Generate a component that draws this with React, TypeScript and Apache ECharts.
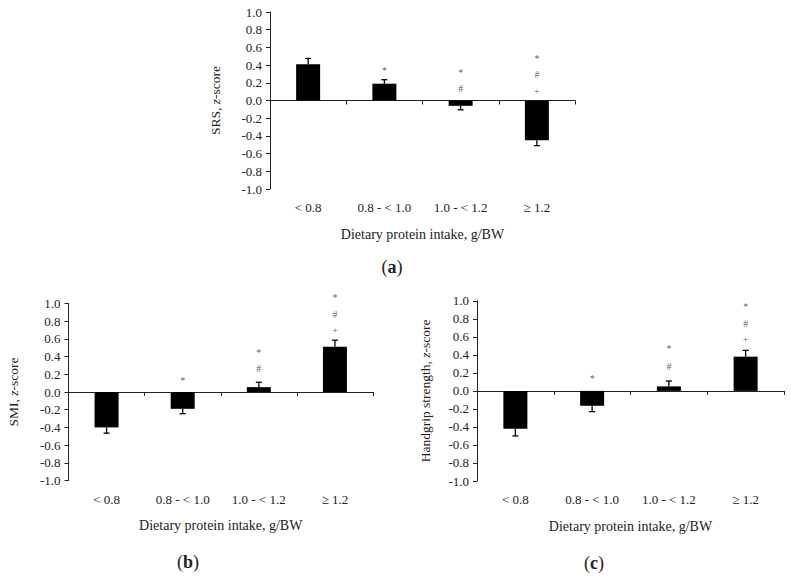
import React, { useEffect, useRef } from "react";
import * as echarts from "echarts";

const categories = ["< 0.8", "0.8 - < 1.0", "1.0 - < 1.2", "≥ 1.2"];
const yTicks = { min: -1, max: 1, step: 0.2 };

const srsMean = [0.41, 0.19, -0.06, -0.45];
const srsSE = [0.065, 0.045, 0.045, 0.06];
const smiMean = [-0.4, -0.19, 0.055, 0.51];
const smiSE = [0.065, 0.055, 0.055, 0.075];
const hgMean = [-0.42, -0.165, 0.05, 0.38];
const hgSE = [0.08, 0.065, 0.06, 0.07];

// significance marks: [category index, y value, symbol]
const srsMarks: [number, number, string][] = [
  [1, 0.34, "*"],
  [2, 0.32, "*"], [2, 0.13, "#"],
  [3, 0.48, "*"], [3, 0.29, "#"], [3, 0.1, "+"],
];
const smiMarks: [number, number, string][] = [
  [1, 0.13, "*"],
  [2, 0.45, "*"], [2, 0.26, "#"],
  [3, 1.07, "*"], [3, 0.88, "#"], [3, 0.69, "+"],
];
const hgMarks: [number, number, string][] = [
  [1, 0.14, "*"],
  [2, 0.47, "*"], [2, 0.27, "#"],
  [3, 0.94, "*"], [3, 0.75, "#"], [3, 0.57, "+"],
];

const xTitle = "Dietary protein intake, g/BW";
const panels = [
  { pre: "SRS, ", post: "-score", mean: srsMean, se: srsSE, marks: srsMarks, caption: "a" },
  { pre: "SMI, ", post: "-score", mean: smiMean, se: smiSE, marks: smiMarks, caption: "b" },
  { pre: "Handgrip strength, ", post: "-score", mean: hgMean, se: hgSE, marks: hgMarks, caption: "c" },
];

const FONT = "Liberation Serif";
const TXT = "#222";

const grids = [
  { left: 270, top: 12, width: 305, height: 177 },
  { left: 68.5, top: 303.5, width: 304.5, height: 177 },
  { left: 477, top: 300.8, width: 307, height: 180.2 },
];
const yNameGaps = [48, 48, 45];
const captionPos = [
  [392, 267],
  [188, 562],
  [594, 563],
];

export default function App() {
  const ref = useRef<HTMLDivElement>(null);
  useEffect(() => {
    if (!ref.current) return;
    const chart = echarts.init(ref.current, null, { renderer: "svg" });
    const xAxis: any[] = [];
    const yAxis: any[] = [];
    const series: any[] = [];
    panels.forEach((p, g) => {
      xAxis.push({
        type: "category",
        gridIndex: g,
        data: categories,
        axisLine: { onZero: true, lineStyle: { color: TXT, width: 1 } },
        axisTick: { show: true, length: 4, lineStyle: { color: TXT } },
        axisLabel: { show: false },
      });
      xAxis.push({
        type: "category",
        gridIndex: g,
        position: "bottom",
        data: categories,
        axisLine: { show: false, onZero: false },
        axisTick: { show: false },
        axisLabel: { margin: 12, fontSize: 13, color: TXT, fontFamily: FONT },
        name: xTitle,
        nameLocation: "middle",
        nameGap: 38,
        nameTextStyle: { fontSize: 14, color: TXT, fontFamily: FONT },
      });
      yAxis.push({
        type: "value",
        gridIndex: g,
        min: yTicks.min,
        max: yTicks.max,
        interval: yTicks.step,
        splitLine: { show: false },
        axisLine: { show: true, onZero: false, lineStyle: { color: TXT, width: 1 } },
        axisTick: { show: true, length: 4, lineStyle: { color: TXT } },
        axisLabel: {
          fontSize: 13,
          color: TXT,
          fontFamily: FONT,
          margin: 8,
          formatter: (v: number) => (Math.abs(v) < 1e-9 ? 0 : v).toFixed(1),
        },
        name: `{n|${p.pre}}{i|z}{n|${p.post}}`,
        nameLocation: "middle",
        nameGap: yNameGaps[g],
        nameTextStyle: {
          rich: {
            n: { fontSize: 13.5, color: TXT, fontFamily: FONT },
            i: { fontSize: 13.5, color: TXT, fontFamily: FONT, fontStyle: "italic" },
          },
        },
      });
      series.push({
        type: "bar",
        xAxisIndex: g * 2,
        yAxisIndex: g,
        data: p.mean,
        barWidth: 24,
        itemStyle: { color: "#000" },
      });
      series.push({
        type: "custom",
        xAxisIndex: g * 2,
        yAxisIndex: g,
        data: p.mean.map((m, i) => [i, m, m + Math.sign(m) * p.se[i]]),
        renderItem: (params: any, api: any) => {
          const i = api.value(0);
          const a = api.coord([i, api.value(1)]);
          const b = api.coord([i, api.value(2)]);
          const st = { stroke: "#000", lineWidth: 1.3 };
          return {
            type: "group",
            children: [
              { type: "line", shape: { x1: a[0], y1: a[1], x2: b[0], y2: b[1] }, style: st },
              { type: "line", shape: { x1: b[0] - 3, y1: b[1], x2: b[0] + 3, y2: b[1] }, style: st },
            ],
          };
        },
        z: 3,
      });
      series.push({
        type: "scatter",
        xAxisIndex: g * 2,
        yAxisIndex: g,
        clip: false,
        symbolSize: 0,
        itemStyle: { color: "#333" },
        data: p.marks.map((m) => ({ value: [m[0], m[1]], name: m[2] })),
        label: {
          show: true,
          position: "inside",
          formatter: (q: any) => q.name,
          fontSize: 10,
          color: "#333",
          fontFamily: FONT,
        },
      });
    });
    const graphic = panels.map((p, g) => ({
      type: "text",
      x: captionPos[g][0],
      y: captionPos[g][1],
      style: {
        text: `{p|(}{b|${p.caption}}{p|)}`,
        align: "center",
        verticalAlign: "middle",
        rich: {
          p: { fontSize: 18, fontFamily: FONT, fill: TXT },
          b: { fontSize: 18, fontFamily: FONT, fill: TXT, fontWeight: "bold" },
        },
      },
    }));
    chart.setOption({
      animation: false,
      backgroundColor: "#fff",
      grid: grids,
      xAxis,
      yAxis,
      series,
      graphic,
    });
    return () => chart.dispose();
  }, []);
  return (
    <div
      ref={ref}
      style={{ position: "absolute", left: 0, top: 0, width: 791, height: 578 }}
    />
  );
}
